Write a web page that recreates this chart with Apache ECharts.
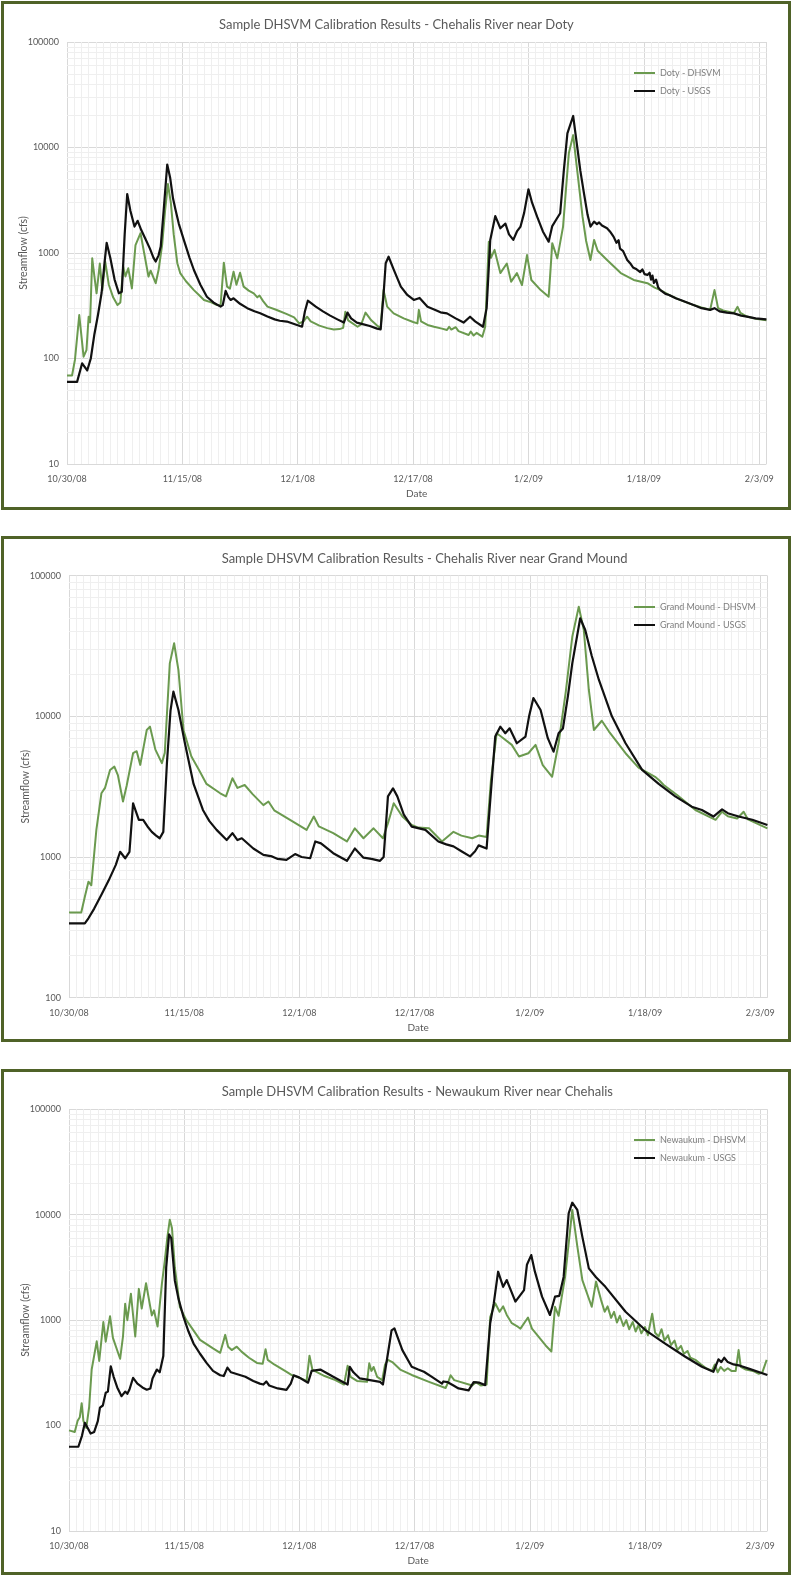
<!DOCTYPE html>
<html>
<head>
<meta charset="utf-8">
<title>Sample DHSVM Calibration Results</title>
<script src="https://cdn.jsdelivr.net/npm/echarts@6/dist/echarts.min.js"></script>
<style>
  html, body { margin: 0; padding: 0; background: #ffffff; }
  #chart { width: 792px; height: 1576px; }
</style>
</head>
<body>
<div id="chart"></div>
<script>
// Date axis: days counted from 10/30/08, labelled every 16 days.
const tickDates = ['10/30/08', '11/15/08', '12/1/08', '12/17/08', '1/2/09', '1/18/09', '2/3/09'];

// Each pair is [days since 10/30/08, streamflow in cfs].
const dotyUsgs = [[0,60],[1.4,60],[2.1,90],[2.8,77],[3.3,100],[3.8,170],[4.3,260],[4.8,420],[5.2,800],[5.5,1250],[6.0,900],[6.6,560],[7.2,415],[7.6,430],[8.0,1500],[8.35,3620],[8.8,2500],[9.36,1780],[9.8,2020],[10.3,1650],[10.9,1350],[11.5,1100],[12.0,900],[12.3,830],[12.7,950],[13.0,1150],[13.4,2500],[13.9,6900],[14.3,5200],[14.7,3300],[15.05,2570],[15.5,1900],[16.2,1330],[17.0,900],[17.6,690],[18.5,500],[19.4,385],[20.3,340],[21.3,310],[21.6,320],[22.0,437],[22.4,380],[22.7,359],[23.1,372],[24.0,330],[25.0,300],[26.0,280],[26.8,268],[27.8,250],[28.8,235],[29.5,228],[30.5,224],[31.5,212],[32.6,200],[33.0,280],[33.4,353],[34.5,310],[35.5,280],[36.5,255],[37.5,235],[38.4,219],[38.9,272],[39.4,240],[40.2,219],[41.0,212],[42.0,203],[43.0,192],[43.5,189],[43.9,400],[44.2,800],[44.6,922],[45.3,700],[46.3,480],[47.2,400],[48.1,359],[48.9,375],[50.0,309],[51.0,290],[51.8,274],[52.7,268],[53.9,240],[55.0,219],[55.9,249],[56.6,225],[57.7,200],[58.2,300],[58.7,1330],[59.4,2240],[60.1,1715],[60.8,1900],[61.3,1500],[61.9,1330],[62.4,1600],[62.9,1780],[63.4,2400],[64.0,4020],[64.5,3000],[65.2,2210],[66.0,1600],[66.8,1280],[67.3,1800],[67.9,2100],[68.4,2380],[68.9,6000],[69.4,13600],[70.2,19900],[70.7,10960],[71.2,6000],[71.7,3680],[72.2,2300],[72.6,1780],[73.1,1980],[73.5,1880],[73.8,1950],[74.2,1820],[74.9,1715],[75.3,1600],[75.8,1430],[76.2,1250],[76.5,1320],[76.7,1100],[77.1,1050],[77.4,950],[77.7,860],[78.1,800],[78.5,730],[79.0,700],[79.5,660],[79.8,700],[80.1,630],[80.5,620],[80.8,650],[81.0,560],[81.2,610],[81.4,520],[81.7,560],[82.0,470],[82.3,445],[83.0,410],[83.5,400],[84.5,370],[85.1,359],[86.0,340],[86.9,321],[88.0,300],[89.2,289],[89.8,300],[90.5,280],[91.5,272],[92.5,268],[93.5,255],[94.3,249],[95.5,240],[97,235]];

const dotyDhsvm = [[0,69],[0.7,69],[1.1,97],[1.7,258],[2.3,104],[2.7,120],[3.0,249],[3.2,220],[3.5,890],[3.8,600],[4.1,415],[4.55,795],[4.9,445],[5.3,830],[5.8,500],[6.4,380],[7.0,321],[7.4,340],[7.8,740],[8.1,600],[8.5,716],[9.0,462],[9.5,1190],[10.2,1540],[10.7,1000],[11.3,597],[11.6,680],[12.3,517],[12.7,690],[13.2,1200],[13.6,2500],[14.0,4500],[14.4,3000],[14.8,1500],[15.3,800],[15.7,645],[16.5,540],[17.6,445],[18.3,400],[19.0,359],[20.0,340],[20.8,321],[21.3,320],[21.75,810],[22.0,600],[22.2,480],[22.6,460],[23.1,665],[23.5,500],[24.0,650],[24.5,480],[25.2,440],[25.9,415],[26.4,380],[26.7,395],[27.2,350],[27.8,310],[29.0,290],[30.5,263],[31.5,245],[32.2,215],[32.8,225],[33.3,249],[33.8,225],[35.0,205],[36.1,194],[37.0,188],[37.8,190],[38.3,195],[38.6,277],[39.0,230],[40.3,200],[40.8,210],[41.4,272],[42.2,230],[43.0,205],[43.5,194],[43.7,300],[43.9,445],[44.2,360],[44.4,310],[45.3,268],[46.7,240],[48.0,222],[48.6,215],[48.8,289],[49.1,225],[50.0,208],[50.9,200],[52.0,192],[52.7,186],[53.0,200],[53.3,188],[53.9,198],[54.3,182],[55.7,167],[56.0,180],[56.4,165],[56.8,175],[57.6,161],[58.0,200],[58.3,600],[58.5,1280],[58.8,900],[59.3,1070],[60.1,645],[61.0,795],[61.6,535],[62.4,645],[63.1,497],[63.8,955],[64.4,555],[65.7,445],[66.8,385],[67.0,600],[67.3,1240],[68.0,890],[68.8,1780],[69.2,4000],[69.6,8810],[70.2,13100],[70.7,6580],[71.5,2210],[72.0,1300],[72.6,860],[73.1,1330],[73.6,1050],[74.9,860],[76.8,645],[78.6,555],[80.5,517],[81.5,470],[82.3,445],[83.5,400],[85.0,360],[86.9,321],[88.0,305],[89.2,290],[89.8,445],[90.3,300],[91.0,285],[92.5,270],[93.0,309],[93.4,270],[94.3,250],[95.5,238],[97,230]];

const grandMoundUsgs = [[0,338],[2.2,338],[2.7,367],[3.5,430],[4.5,540],[5.5,680],[6.5,880],[7.1,1090],[7.8,980],[8.4,1090],[8.9,2410],[9.3,2100],[9.7,1840],[10.3,1840],[10.9,1650],[11.5,1510],[12.1,1420],[12.6,1360],[13.1,1510],[13.6,4640],[14.1,11000],[14.5,15000],[15.2,11100],[16.1,6440],[17.3,3310],[18.6,2160],[19.5,1800],[20.5,1560],[21.9,1320],[22.7,1480],[23.4,1320],[24.0,1360],[25.6,1150],[27.0,1035],[28.2,1010],[29.0,970],[30.2,955],[31.4,1050],[32.3,1000],[33.5,980],[34.2,1290],[35.0,1250],[36.7,1065],[38.6,940],[39.7,1150],[40.9,990],[42.0,970],[43.2,940],[43.7,1000],[44.3,2700],[45.0,3080],[45.6,2700],[46.5,2000],[47.6,1645],[49.5,1560],[51.3,1290],[52.4,1230],[53.4,1190],[54.5,1100],[55.7,1010],[56.4,1100],[56.9,1210],[58.0,1150],[58.5,2500],[59.2,7180],[59.9,8450],[60.6,7590],[61.2,8220],[62.2,6440],[63.4,7180],[63.9,10000],[64.5,13500],[65.5,11100],[66.5,7000],[67.3,5610],[68.0,7590],[68.6,8200],[69.3,14000],[69.9,23800],[71.0,49800],[71.7,41100],[72.6,27000],[73.6,18150],[75.4,10000],[77.3,6440],[79.6,4160],[81.9,3310],[84.2,2700],[86.5,2280],[87.9,2160],[89.5,1940],[90.7,2180],[91.5,2050],[93.0,1940],[94.9,1840],[97,1690]];

const grandMoundDhsvm = [[0,403],[1.7,403],[2.2,522],[2.7,668],[3.1,630],[3.8,1560],[4.5,2840],[5.0,3100],[5.7,4160],[6.3,4390],[6.8,3800],[7.5,2480],[8.0,3200],[8.9,5470],[9.4,5650],[9.9,4520],[10.8,8000],[11.25,8450],[12.0,5800],[12.9,4650],[13.3,5500],[14.0,23800],[14.6,33100],[15.2,21300],[15.9,8000],[17.0,5180],[18.0,4200],[19.1,3310],[21.0,2840],[21.8,2700],[22.7,3630],[23.4,3100],[24.4,3250],[25.5,2800],[27.0,2340],[27.7,2480],[28.5,2150],[30.7,1840],[33.0,1560],[34.0,1940],[34.7,1650],[36.7,1480],[38.6,1290],[39.7,1600],[40.9,1360],[42.3,1600],[43.6,1360],[44.3,1740],[45.1,2410],[46.3,1940],[47.6,1690],[48.5,1620],[50.0,1600],[51.8,1290],[53.4,1510],[54.5,1420],[56.0,1360],[56.9,1420],[58.0,1390],[58.6,3500],[59.4,7590],[60.0,7200],[61.5,6270],[62.5,5180],[63.8,5470],[64.8,6270],[65.8,4500],[67.1,3720],[68.0,6440],[69.0,15000],[69.9,36800],[70.8,60200],[71.5,41100],[72.2,15400],[72.9,8000],[74.0,9310],[75.0,7800],[77.3,5470],[79.1,4320],[81.4,3720],[82.0,3500],[82.6,3250],[84.5,2750],[87.0,2160],[89.8,1840],[90.7,2100],[91.5,1950],[92.8,1880],[93.7,2100],[94.3,1850],[97,1600]];

const newaukumUsgs = [[0,63],[1.3,63],[1.8,80],[2.2,106],[2.6,95],[3.0,84],[3.5,87],[4.0,110],[4.3,148],[4.7,155],[5.1,205],[5.4,210],[5.8,365],[6.2,290],[6.7,230],[7.3,190],[7.8,210],[8.1,200],[8.4,220],[8.9,284],[9.5,250],[10.2,230],[10.8,219],[11.3,225],[11.6,280],[12.2,340],[12.6,320],[13.1,456],[13.5,3160],[13.9,6500],[14.2,6000],[14.7,2370],[15.2,1600],[15.9,1075],[16.6,780],[17.3,600],[18.2,480],[19.1,393],[20.0,330],[21.0,300],[21.5,295],[22.0,355],[22.5,320],[23.5,305],[24.5,290],[25.6,265],[26.5,250],[27.0,245],[27.4,262],[27.8,240],[29.0,225],[30.2,218],[30.8,250],[31.2,300],[32.0,285],[33.2,255],[33.7,330],[34.9,340],[36.7,290],[38.1,258],[38.7,245],[39.0,361],[39.5,320],[40.4,280],[41.8,270],[43.2,260],[43.6,245],[44.3,485],[44.8,800],[45.2,835],[45.6,700],[46.3,520],[47.6,361],[48.5,340],[49.3,324],[50.4,290],[51.8,250],[52.0,262],[52.6,258],[53.4,240],[54.1,225],[55.5,216],[56.2,258],[57.0,255],[57.8,242],[58.5,935],[59.0,1450],[59.6,2880],[60.3,2070],[60.8,2400],[62.0,1500],[62.6,1700],[63.2,1930],[63.6,3350],[64.2,4140],[64.7,2900],[65.7,1670],[66.8,1120],[67.5,1670],[68.1,1700],[68.7,2570],[69.4,10300],[69.9,13000],[70.6,11100],[71.3,6170],[72.2,3100],[73.2,2550],[74.5,2070],[77.3,1200],[80.0,810],[82.8,600],[85.6,450],[87.9,361],[89.5,324],[90.2,425],[90.6,400],[91.0,440],[91.5,400],[92.3,380],[93.2,370],[94.5,345],[97,302]];

const newaukumDhsvm = [[0,90],[0.8,87],[1.2,111],[1.5,120],[1.76,163],[2.0,111],[2.4,95],[2.8,150],[3.15,340],[3.4,330],[3.85,630],[4.2,410],[4.77,960],[5.1,625],[5.7,1090],[6.1,680],[7.1,430],[7.5,700],[7.8,1430],[8.1,1000],[8.6,1780],[9.2,700],[9.7,1980],[10.1,1290],[10.7,2240],[11.5,1110],[11.8,1240],[12.3,870],[12.9,2210],[13.3,3630],[13.65,6030],[14.0,8980],[14.3,7500],[14.7,3160],[15.4,1330],[16.3,1000],[18.2,650],[20.0,540],[21.0,490],[21.7,725],[22.1,560],[22.6,520],[23.3,560],[24.0,500],[25.0,440],[26.1,393],[26.9,385],[27.3,530],[27.6,420],[28.5,380],[30.0,330],[31.0,300],[32.0,285],[33.0,265],[33.4,460],[33.8,340],[34.5,320],[35.5,295],[37.0,270],[38.2,245],[38.7,370],[39.1,290],[40.0,265],[41.4,260],[41.7,390],[42.0,330],[42.3,360],[42.8,290],[43.5,270],[43.9,380],[44.3,420],[44.9,400],[46.0,340],[47.6,302],[50.0,260],[52.3,227],[52.7,262],[53.0,300],[53.5,270],[56.0,240],[56.5,258],[57.2,240],[58.0,245],[58.5,1070],[59.2,1445],[59.8,1200],[60.3,1350],[60.8,1120],[61.5,935],[62.2,880],[62.7,830],[63.75,1060],[64.3,830],[66.2,575],[67.0,505],[67.5,1340],[68.0,1100],[68.9,2570],[69.9,11100],[70.6,5000],[71.3,2400],[72.6,1340],[73.2,2320],[73.9,1550],[74.4,1200],[74.8,1350],[75.3,1050],[75.7,1200],[76.1,950],[76.5,1100],[77.0,880],[77.4,1000],[77.8,820],[78.3,960],[78.7,780],[79.1,900],[79.5,750],[80.0,860],[80.4,720],[81.0,1150],[81.4,760],[81.9,700],[82.3,820],[82.7,640],[83.2,720],[83.6,580],[84.1,640],[84.5,520],[85.0,570],[85.4,480],[85.9,510],[86.3,440],[87.0,420],[87.8,380],[88.5,350],[89.3,330],[89.7,380],[90.1,320],[90.5,360],[91.0,330],[91.5,350],[92.0,330],[92.6,330],[93.0,520],[93.3,360],[94.0,340],[95.0,330],[95.8,310],[96.3,320],[96.9,420]];

const siteNames = ['Doty', 'Grand Mound', 'Newaukum'];
const chartTitles = [
  'Sample DHSVM Calibration Results - Chehalis River near Doty',
  'Sample DHSVM Calibration Results - Chehalis River near Grand Mound',
  'Sample DHSVM Calibration Results - Newaukum River near Chehalis'
];
const modelSeries = [dotyDhsvm, grandMoundDhsvm, newaukumDhsvm];
const gaugeSeries = [dotyUsgs, grandMoundUsgs, newaukumUsgs];
const axisFloors = [10, 100, 10];

// Page layout of the three framed charts.
const layout = [
  { frame: [2.5, 2.5, 787, 506], grid: [67, 42, 699.4, 422], titleX: 219, titleY: 18, legendY: 67.5 },
  { frame: [2.5, 537.5, 787, 503], grid: [69, 575.7, 698.4, 422], titleX: 221.7, titleY: 552, legendY: 601.5 },
  { frame: [2.5, 1070.5, 787, 503], grid: [69, 1109.3, 698.4, 421.7], titleX: 221.7, titleY: 1085, legendY: 1134.5 }
];

const GREEN = '#6b9a4f';
const BLACK = '#111111';
const BORDER = '#4f6228';
const TEXT = '#595959';
const FONT = 'Lato, "Open Sans", sans-serif';
const DAYS_SHOWN = 97;

// Light minor grid: one line per day and 2..9 within each decade.
function minorGridLines(floor) {
  const lines = [];
  for (let d = 1; d < DAYS_SHOWN; d++) {
    if (d % 16 !== 0) lines.push({ xAxis: d });
  }
  for (let p = floor; p < 100000; p *= 10) {
    for (let m = 2; m <= 9; m++) lines.push({ yAxis: m * p });
  }
  return lines;
}

const option = {
  animation: false,
  backgroundColor: '#ffffff',
  textStyle: { fontFamily: FONT },
  title: [], legend: [], grid: [], xAxis: [], yAxis: [], series: [],
  graphic: []
};

layout.forEach((L, i) => {
  const modelName = siteNames[i] + ' - DHSVM';
  const gaugeName = siteNames[i] + ' - USGS';

  option.graphic.push({
    type: 'rect', silent: true, z: 100,
    shape: { x: L.frame[0], y: L.frame[1], width: L.frame[2], height: L.frame[3] },
    style: { fill: 'none', stroke: BORDER, lineWidth: 3 }
  });

  option.title.push({
    text: chartTitles[i], left: L.titleX, top: L.titleY, padding: 0,
    textStyle: { fontFamily: FONT, fontSize: 13, fontWeight: 'normal', color: TEXT }
  });

  option.legend.push({
    orient: 'vertical', left: 634, top: L.legendY, padding: 0, z: 6,
    itemWidth: 21, itemHeight: 2, itemGap: 7, icon: 'rect', selectedMode: false,
    data: [modelName, gaugeName],
    textStyle: { fontFamily: FONT, fontSize: 9, lineHeight: 11, color: '#7f7f7f' }
  });

  option.grid.push({
    left: L.grid[0], top: L.grid[1], width: L.grid[2], height: L.grid[3],
    containLabel: false, outerBoundsMode: 'none'
  });

  option.xAxis.push({
    type: 'value', gridIndex: i, min: 0, max: DAYS_SHOWN, interval: 16,
    axisLine: { show: false }, axisTick: { show: false },
    splitLine: { show: true, lineStyle: { color: '#d9d9d9', width: 1 } },
    axisLabel: {
      color: TEXT, fontSize: 9, margin: 11, fontFamily: FONT,
      formatter: v => (v % 16 === 0 ? tickDates[v / 16] : '')
    },
    name: 'Date', nameLocation: 'middle', nameGap: 25, nameMoveOverlap: false,
    nameTextStyle: { color: TEXT, fontSize: 10, fontFamily: FONT }
  });

  option.yAxis.push({
    type: 'log', logBase: 10, gridIndex: i, min: axisFloors[i], max: 100000,
    axisLine: { show: false }, axisTick: { show: false },
    splitLine: { show: true, lineStyle: { color: '#d9d9d9', width: 1 } },
    axisLabel: {
      color: TEXT, fontSize: 9, margin: 8, fontFamily: FONT,
      formatter: v => String(Math.round(v))
    },
    name: 'Streamflow (cfs)', nameLocation: 'middle', nameGap: 38, nameMoveOverlap: false,
    nameTextStyle: { color: TEXT, fontSize: 10.5, fontFamily: FONT }
  });

  // Minor grid drawn as mark lines beneath the flow lines.
  option.series.push({
    name: 'grid-' + i, type: 'line', xAxisIndex: i, yAxisIndex: i,
    data: [[0, axisFloors[i]]], symbol: 'none', silent: true, z: 1,
    lineStyle: { opacity: 0 },
    markLine: {
      z: 1, silent: true, symbol: ['none', 'none'], label: { show: false },
      lineStyle: { color: '#efefef', width: 1, type: 'solid' },
      emphasis: { disabled: true },
      data: minorGridLines(axisFloors[i])
    }
  });

  option.series.push({
    name: modelName, type: 'line', xAxisIndex: i, yAxisIndex: i,
    data: modelSeries[i], symbol: 'none', z: 3, color: GREEN,
    lineStyle: { color: GREEN, width: 2, join: 'round' }
  });

  option.series.push({
    name: gaugeName, type: 'line', xAxisIndex: i, yAxisIndex: i,
    data: gaugeSeries[i], symbol: 'none', z: 4, color: BLACK,
    lineStyle: { color: BLACK, width: 2.2, join: 'round' }
  });
});

const chart = echarts.init(document.getElementById('chart'), null, { renderer: 'canvas' });
chart.setOption(option);
</script>
</body>
</html>
